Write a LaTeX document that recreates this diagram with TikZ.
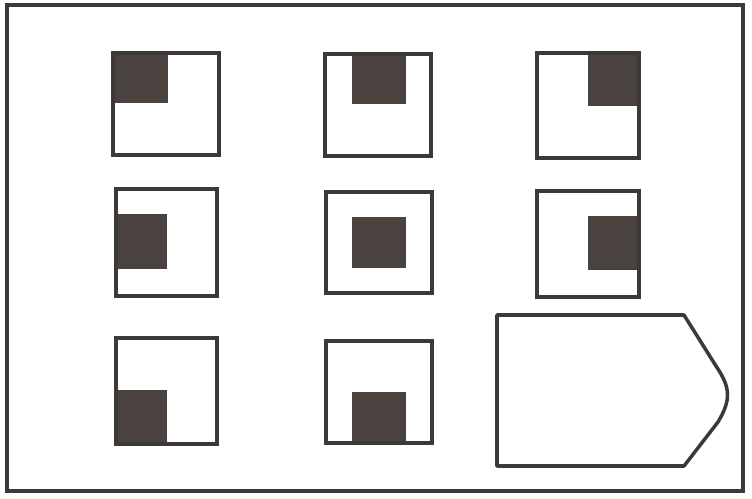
\documentclass[tikz,border=0pt]{standalone}
\usepackage{tikz}
\usetikzlibrary{positioning,calc}
\definecolor{ink}{HTML}{3C3A38}
\definecolor{shade}{HTML}{4A423E}
\begin{document}
\begin{tikzpicture}[x=0.02cm, y=-0.02cm,
    frame/.style={draw=ink, line width=2pt},
    cell/.style={draw=ink, line width=2pt},
    blk/.style={fill=shade}]
    \useasboundingbox (0,0) rectangle (752,498);
    \draw[frame] (7,5) rectangle (743,491);
    % squares: outer box / dark block
    \foreach \xa/\ya/\xb/\yb/\ba/\bb/\bc/\bd in {
        113/53/219/155/113/53/168/103,
        325/54/431/156/352/54/406/104,
        537/53/639/158/588/53/639/106,
        116/189/217/296/116/214/167/269,
        326/192/432/293/352/217/406/268,
        537/191/639/297/588/216/639/270,
        116/338/217/444/116/390/167/444,
        326/341/432/443/352/392/406/443}
    {
        \fill[blk] (\ba,\bb) rectangle (\bc,\bd);
        \draw[cell] (\xa,\ya) rectangle (\xb,\yb);
    }
    % answer shape
    \draw[cell, line join=round] (497,315) -- (684,315) -- (716,366)
        .. controls (731,388) and (731,400) .. (718,422) -- (684,466)
        -- (497,466) -- cycle;
\end{tikzpicture}
\end{document}
